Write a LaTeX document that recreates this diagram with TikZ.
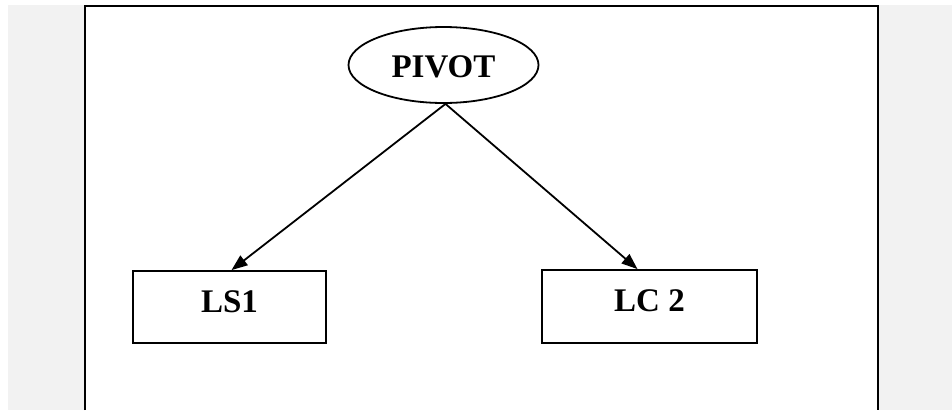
\documentclass[tikz,border=0pt]{standalone}
\usepackage{fontspec}
\setmainfont{Liberation Serif}
\usetikzlibrary{shapes.geometric,arrows.meta}
\definecolor{bggray}{HTML}{F2F2F2}
\tikzset{
  lbl/.style={font=\fontsize{33}{33}\selectfont\bfseries},
  boxnode/.style={draw, line width=1.8pt, inner sep=0pt, lbl, text height=24pt, text depth=14pt},
  ellnode/.style={draw, ellipse, line width=1.8pt, inner sep=0pt, lbl, text height=24pt, text depth=0pt,
                  minimum width=190pt, minimum height=76pt},
  conn/.style={line width=1.8pt, -{Triangle[length=16pt,width=12pt]}},
  frame/.style={line width=2.2pt}
}
\begin{document}
\begin{tikzpicture}[x=1pt,y=-1pt]
\useasboundingbox (0,0) rectangle (952,410);
\fill[bggray] (8,5) rectangle (952,410);
\fill[white] (85,6) rectangle (878,410);
\coordinate (fbl) at (85,410);
\coordinate (ftl) at (85,6);
\coordinate (ftr) at (878,6);
\coordinate (fbr) at (878,410);
\draw[frame] (fbl) -- (ftl) -- (ftr) -- (fbr);
\node[ellnode] (piv) at (443.5,65) {PIVOT};
\node[boxnode, minimum width=193pt, minimum height=72pt] (ls) at (229.5,307) {LS1};
\node[boxnode, minimum width=215pt, minimum height=73pt] (lc) at (649.5,306.5) {LC 2};
\draw[conn] ([xshift=2pt]piv.south) -- ([xshift=2pt]ls.north);
\draw[conn] ([xshift=2pt]piv.south) -- ([xshift=-12pt]lc.north);
\end{tikzpicture}
\end{document}
